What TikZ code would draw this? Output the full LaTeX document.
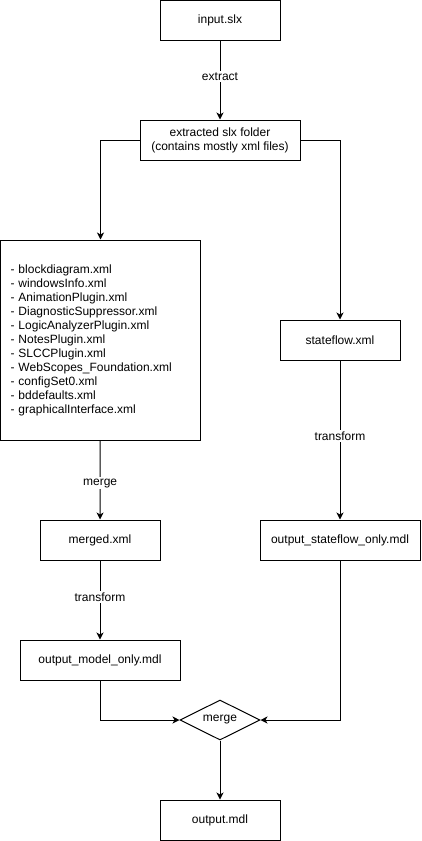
\documentclass[tikz,border=0pt]{standalone}
\usepackage{fontspec}
\setmainfont{Liberation Sans}
\usetikzlibrary{arrows.meta,shapes.geometric}
\begin{document}
\begin{tikzpicture}[x=1pt,y=-1pt,
  txt/.style={font=\fontsize{12}{14}\selectfont},
  box/.style={txt, draw, line width=1pt, rectangle, inner sep=0pt,
    minimum width=#1, minimum height=40pt, align=center},
  decision/.style={txt, draw, line width=1pt, diamond, aspect=2,
    inner sep=0pt, minimum width=80pt, minimum height=40pt},
  flow/.style={draw, line width=1pt,
    -{Stealth[length=7pt,width=7pt,inset=2pt]}},
  lbl/.style={txt, fill=white, inner sep=1.5pt}
]
\useasboundingbox (0,0) rectangle (421,841);

% nodes
\node[box=120pt] (input) at (220,20.5) {input.slx};
\node[box=160pt] (extracted) at (220,140) {extracted slx folder\\(contains mostly xml files)};
\node[txt, draw, line width=1pt, rectangle, inner xsep=10pt, inner ysep=0pt,
      text width=180pt, minimum height=200pt, align=left] (files) at (100.5,340)
  {- blockdiagram.xml\\
   - windowsInfo.xml\\
   - AnimationPlugin.xml\\
   - DiagnosticSuppressor.xml\\
   - LogicAnalyzerPlugin.xml\\
   - NotesPlugin.xml\\
   - SLCCPlugin.xml\\
   - WebScopes\_Foundation.xml\\
   - configSet0.xml\\
   - bddefaults.xml\\
   - graphicalInterface.xml};
\node[box=120pt] (stateflow) at (340,340) {stateflow.xml};
\node[box=120pt] (merged) at (100,540) {merged.xml};
\node[box=160pt] (sfout) at (340,540) {output\_stateflow\_only.mdl};
\node[box=160pt] (modelout) at (100,660) {output\_model\_only.mdl};
\node[decision] (merge) at (220,720) {merge};
\node[box=120pt] (output) at (220,820) {output.mdl};

% connectors
\draw[flow] (input) -- node[lbl, pos=0.45] {extract} (extracted);
\draw[flow] (extracted.west) -| (files.north);
\draw[flow] (extracted.east) -| (stateflow.north);
\draw[flow] (files) -- node[lbl, pos=0.54] {merge} (merged);
\draw[flow] (stateflow) -- node[lbl, pos=0.475] {transform} (sfout);
\draw[flow] (merged) -- node[lbl, pos=0.46] {transform} (modelout);
\draw[flow] (modelout.south) |- (merge.west);
\draw[flow] (sfout.south) |- (merge.east);
\draw[flow] (merge) -- (output);
\end{tikzpicture}
\end{document}
